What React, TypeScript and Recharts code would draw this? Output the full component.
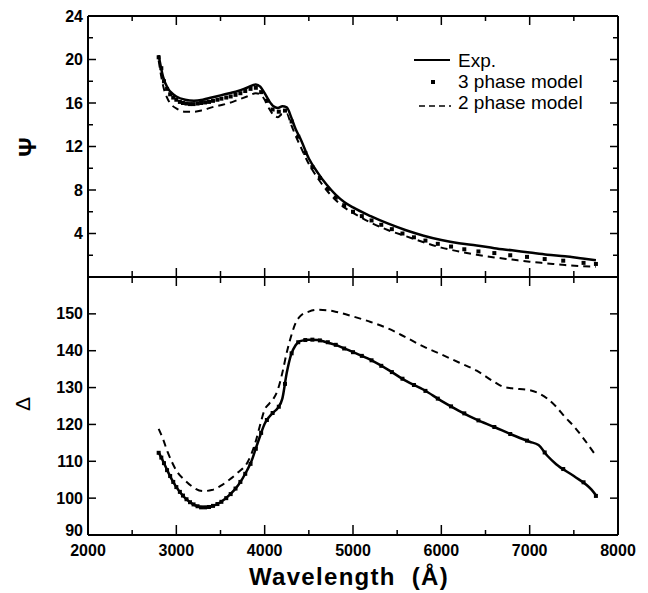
import { ComposedChart, Line, Scatter, XAxis, YAxis } from "recharts";

// wavelength (Å), value pairs
const psiExp: [number, number][] = [
  [2800, 20.4], [2850, 18.4], [2900, 17.4], [2950, 16.9], [3000, 16.6], [3100, 16.3],
  [3200, 16.2], [3300, 16.3], [3400, 16.5], [3500, 16.7], [3600, 16.9], [3700, 17.1],
  [3800, 17.4], [3900, 17.7], [3950, 17.5], [4000, 16.9], [4050, 16.2], [4100, 15.7],
  [4150, 15.55], [4200, 15.7], [4250, 15.6], [4300, 14.7], [4350, 13.6], [4400, 12.8],
  [4500, 10.9], [4600, 9.6], [4700, 8.5], [4800, 7.6], [4900, 6.9], [5000, 6.4],
  [5200, 5.6], [5400, 4.9], [5600, 4.3], [5800, 3.8], [6000, 3.4], [6200, 3.1],
  [6400, 2.9], [6600, 2.65], [6800, 2.45], [7000, 2.25], [7200, 2.05], [7400, 1.9],
  [7600, 1.7], [7750, 1.55],
];

const psiTwoPhase: [number, number][] = [
  [2800, 19.9], [2850, 17.6], [2900, 16.4], [2950, 15.8], [3000, 15.5], [3100, 15.2],
  [3200, 15.2], [3300, 15.35], [3400, 15.6], [3500, 15.8], [3600, 16.0], [3700, 16.3],
  [3800, 16.6], [3900, 16.9], [3950, 16.8], [4000, 16.3], [4050, 15.5], [4100, 14.9],
  [4150, 14.7], [4200, 15.0], [4250, 15.0], [4300, 14.0], [4350, 13.0], [4400, 12.1],
  [4500, 10.4], [4600, 9.1], [4700, 8.0], [4800, 7.1], [4900, 6.4], [5000, 5.9],
  [5200, 5.0], [5400, 4.3], [5600, 3.75], [5800, 3.2], [6000, 2.7], [6200, 2.35],
  [6400, 2.05], [6600, 1.8], [6800, 1.6], [7000, 1.4], [7200, 1.25], [7400, 1.1],
  [7600, 1.0], [7750, 0.95],
];

const deltaExp: [number, number][] = [
  [2800, 112.4], [2850, 110], [2900, 107.4], [2950, 105], [3000, 103], [3100, 100.0],
  [3200, 98.2], [3300, 97.5], [3400, 97.8], [3500, 98.9], [3600, 100.8], [3700, 103.5],
  [3800, 107.5], [3850, 110], [3900, 113.5], [3950, 117], [4000, 120.2], [4050, 122],
  [4100, 123.3], [4150, 124.5], [4200, 127], [4250, 134], [4300, 139], [4350, 141.5],
  [4400, 142.6], [4500, 143.0], [4600, 142.9], [4700, 142.3], [4800, 141.6], [5000, 139.6],
  [5200, 137.5], [5400, 134.8], [5600, 131.8], [5800, 129.4], [6000, 126.4], [6200, 123.7],
  [6400, 121.3], [6600, 119.3], [6800, 117.2], [7000, 115.3], [7100, 114.4], [7200, 111.5],
  [7300, 109.2], [7500, 106.0], [7700, 102.3], [7750, 100.8],
];

const deltaTwoPhase: [number, number][] = [
  [2800, 118.8], [2850, 116], [2900, 112.6], [2950, 109.8], [3000, 107.5], [3100, 104.8],
  [3200, 102.8], [3300, 101.9], [3400, 102.2], [3500, 103.3], [3600, 105.0], [3700, 107],
  [3800, 109.5], [3850, 112], [3900, 115.5], [3950, 120], [4000, 124], [4050, 125.6],
  [4100, 127], [4150, 129.5], [4200, 134], [4250, 139.5], [4300, 144], [4350, 147.5],
  [4400, 149.3], [4500, 150.6], [4600, 151.1], [4700, 151.0], [4800, 150.6], [5000, 149.3],
  [5200, 147.8], [5400, 146.0], [5600, 143.6], [5800, 141.1], [6000, 139.0], [6200, 136.8],
  [6400, 134.6], [6600, 131.5], [6700, 130.2], [6800, 129.8], [7000, 129.3], [7100, 128.5],
  [7200, 127], [7300, 124.8], [7400, 122], [7500, 119.5], [7600, 116.5], [7750, 111.5],
];

// 3 phase model points (markers)
const modelWl = [
  2800, 2830, 2860, 2895, 2930, 2965, 3000, 3040, 3075, 3115, 3155, 3195, 3240, 3280, 3325,
  3370, 3415, 3465, 3510, 3565, 3615, 3670, 3725, 3780, 3840, 3900, 3960, 4025, 4090, 4160,
  4230, 4305, 4380, 4460, 4540, 4625, 4715, 4805, 4900, 5000, 5100, 5210, 5320, 5440, 5560,
  5690, 5820, 5960, 6110, 6260, 6420, 6600, 6780, 6970, 7170, 7380, 7610, 7750,
];
const psiThreePhase = [
  20.2, 19.2, 18.0, 17.3, 16.8, 16.5, 16.3, 16.1, 16.0, 15.95, 15.9, 15.9, 15.95, 16.0, 16.05,
  16.1, 16.2, 16.3, 16.4, 16.5, 16.6, 16.75, 16.9, 17.1, 17.3, 17.4, 17.0, 16.2, 15.4, 15.2,
  15.3, 14.3, 12.9, 11.4, 10.1, 9.1, 8.1, 7.3, 6.6, 6.0, 5.6, 5.2, 4.8, 4.4, 4.0,
  3.65, 3.35, 3.05, 2.8, 2.55, 2.35, 2.2, 2.0, 1.85, 1.65, 1.5, 1.3, 1.2,
];
const deltaThreePhase = [
  112.3, 111, 109.5, 107.6, 106, 104.4, 103, 101.7, 100.7, 99.7, 98.9, 98.3, 97.8, 97.5, 97.5,
  97.6, 97.9, 98.4, 99.0, 100, 101.1, 102.6, 104.4, 106.6, 109.3, 113.4, 117.7, 121.2, 123.1, 124.8,
  131, 139.3, 142.3, 142.9, 143, 142.8, 142.3, 141.6, 140.6, 139.6, 138.6, 137.4, 135.9, 134.2, 132.4,
  130.7, 129.1, 127, 124.9, 123, 121.1, 119.3, 117.4, 115.6, 112.4, 107.9, 104.3, 100.6,
];

const xTicks = [2000, 2500, 3000, 3500, 4000, 4500, 5000, 5500, 6000, 6500, 7000, 7500, 8000];
const psiTicks = [2, 4, 6, 8, 10, 12, 14, 16, 18, 20, 22, 24];
const deltaTicks = [90, 100, 110, 120, 130, 140, 150];

const pts = (pairs: [number, number][]) => pairs.map(([x, y]) => ({ x, y }));
const zipPts = (xs: number[], ys: number[]) => xs.map((x, i) => ({ x, y: ys[i] }));

const sans = "'Liberation Sans', Arial, Helvetica, sans-serif";
const tickText = { fontFamily: sans, fontWeight: 700, fontSize: 16, fill: "#000" };
const axisLine = { stroke: "#000", strokeWidth: 2 };

type TickProps = { x?: number; y?: number; payload?: { value: number } };

// left ticks point inward, labels sit outside; the lowest label is nudged up off the x labels
const LeftTick = (labelEvery: number, minorLen: number, lowest: number) =>
  function Tick({ x = 0, y = 0, payload }: TickProps) {
    const v = payload?.value ?? 0;
    const major = v % labelEvery === 0;
    return (
      <g>
        <line x1={x} x2={x + (major ? 8 : minorLen)} y1={y} y2={y} stroke="#000" strokeWidth={1.5} />
        {major && (
          <text
            x={x - 5}
            y={v === lowest ? y - 5 : y}
            textAnchor="end"
            dominantBaseline="central"
            {...tickText}
          >
            {v}
          </text>
        )}
      </g>
    );
  };

const RightTick = (majorEvery: number) =>
  function Tick({ x = 0, y = 0, payload }: TickProps) {
    const v = payload?.value ?? 0;
    const len = v % majorEvery === 0 ? 8 : 5;
    return <line x1={x} x2={x - len} y1={y} y2={y} stroke="#000" strokeWidth={1.5} />;
  };

function TopTick({ x = 0, y = 0, payload }: TickProps) {
  const len = (payload?.value ?? 0) % 1000 === 0 ? 9 : 5;
  return <line x1={x} x2={x} y1={y} y2={y + len} stroke="#000" strokeWidth={1.5} />;
}

function MidTick({ x = 0, y = 0, payload }: TickProps) {
  const len = (payload?.value ?? 0) % 1000 === 0 ? 9 : 6;
  return <line x1={x} x2={x} y1={y - len} y2={y + len} stroke="#000" strokeWidth={1.5} />;
}

function BottomTick({ x = 0, y = 0, payload }: TickProps) {
  const v = payload?.value ?? 0;
  const major = v % 1000 === 0;
  return (
    <g>
      <line x1={x} x2={x} y1={y} y2={y - (major ? 10 : 5)} stroke="#000" strokeWidth={1.5} />
      {major && (
        <text x={x} y={y + 15} textAnchor="middle" dominantBaseline="central" {...tickText}>
          {v}
        </text>
      )}
    </g>
  );
}

const Square = (props: any) => (
  <rect x={props.cx - 2} y={props.cy - 2} width={4} height={4} fill="#000" />
);

const PsiLeftTick = LeftTick(4, 5, 0);
const DeltaLeftTick = LeftTick(10, 8, 90);
const PsiRightTick = RightTick(4);
const DeltaRightTick = RightTick(10);

export default function App() {
  return (
    <div style={{ position: "absolute", left: 0, top: 0, width: 648, height: 593, background: "#fff" }}>
      <div style={{ position: "absolute", left: 0, top: 0 }}>
        <ComposedChart width={648} height={290} margin={{ top: 15, right: 10, bottom: 0, left: 8 }}>
          <XAxis
            dataKey="x"
            type="number"
            domain={[2000, 8000]}
            ticks={xTicks}
            interval={0}
            height={13}
            tickSize={0}
            tickMargin={0}
            tickLine={false}
            axisLine={axisLine}
            tick={MidTick}
            allowDataOverflow
          />
          <XAxis
            xAxisId="top"
            orientation="top"
            dataKey="x"
            type="number"
            domain={[2000, 8000]}
            ticks={xTicks}
            interval={0}
            height={1}
            tickSize={0}
            tickMargin={0}
            tickLine={false}
            axisLine={axisLine}
            tick={TopTick}
            allowDataOverflow
          />
          <YAxis
            type="number"
            domain={[0, 24]}
            ticks={psiTicks}
            interval={0}
            width={80}
            tickSize={0}
            tickMargin={0}
            tickLine={false}
            axisLine={axisLine}
            tick={PsiLeftTick}
            allowDataOverflow
          />
          <YAxis
            yAxisId="right"
            orientation="right"
            type="number"
            domain={[0, 24]}
            ticks={psiTicks}
            interval={0}
            width={20}
            tickSize={0}
            tickMargin={0}
            tickLine={false}
            axisLine={axisLine}
            tick={PsiRightTick}
            allowDataOverflow
          />
          <Line
            data={pts(psiTwoPhase)}
            dataKey="y"
            type="monotone"
            stroke="#000"
            strokeWidth={2}
            strokeDasharray="7 5"
            dot={false}
            isAnimationActive={false}
          />
          <Line
            data={pts(psiExp)}
            dataKey="y"
            type="monotone"
            stroke="#000"
            strokeWidth={2.5}
            dot={false}
            isAnimationActive={false}
          />
          <Scatter
            data={zipPts(modelWl, psiThreePhase)}
            dataKey="y"
            fill="#000"
            shape={Square}
            isAnimationActive={false}
          />
        </ComposedChart>
      </div>

      <div style={{ position: "absolute", left: 0, top: 260 }}>
        <ComposedChart width={648} height={333} margin={{ top: 17, right: 10, bottom: 0, left: 8 }}>
          <XAxis
            dataKey="x"
            type="number"
            domain={[2000, 8000]}
            ticks={xTicks}
            interval={0}
            height={58}
            tickSize={0}
            tickMargin={0}
            tickLine={false}
            axisLine={axisLine}
            tick={BottomTick}
            allowDataOverflow
          />
          <YAxis
            type="number"
            domain={[90, 160]}
            ticks={deltaTicks}
            interval={0}
            width={80}
            tickSize={0}
            tickMargin={0}
            tickLine={false}
            axisLine={axisLine}
            tick={DeltaLeftTick}
            allowDataOverflow
          />
          <YAxis
            yAxisId="right"
            orientation="right"
            type="number"
            domain={[90, 160]}
            ticks={deltaTicks}
            interval={0}
            width={20}
            tickSize={0}
            tickMargin={0}
            tickLine={false}
            axisLine={axisLine}
            tick={DeltaRightTick}
            allowDataOverflow
          />
          <Line
            data={pts(deltaTwoPhase)}
            dataKey="y"
            type="monotone"
            stroke="#000"
            strokeWidth={2}
            strokeDasharray="7 5"
            dot={false}
            isAnimationActive={false}
          />
          <Line
            data={pts(deltaExp)}
            dataKey="y"
            type="monotone"
            stroke="#000"
            strokeWidth={2.5}
            dot={false}
            isAnimationActive={false}
          />
          <Scatter
            data={zipPts(modelWl, deltaThreePhase)}
            dataKey="y"
            fill="#000"
            shape={Square}
            isAnimationActive={false}
          />
        </ComposedChart>
      </div>

      {/* axis titles and legend */}
      <svg
        width={648}
        height={593}
        style={{ position: "absolute", left: 0, top: 0, pointerEvents: "none" }}
      >
        <text
          x={27}
          y={147}
          transform="rotate(-90 27 147)"
          textAnchor="middle"
          dominantBaseline="central"
          fontFamily={sans}
          fontWeight={700}
          fontSize={24}
        >
          Ψ
        </text>
        <text
          x={22}
          y={404}
          transform="rotate(-90 22 404)"
          textAnchor="middle"
          dominantBaseline="central"
          fontFamily={sans}
          fontSize={21}
        >
          Δ
        </text>
        <text
          x={349}
          y={585}
          textAnchor="middle"
          fontFamily={sans}
          fontWeight={700}
          fontSize={24}
          letterSpacing={1.3}
        >
          {"Wavelength\u00A0\u00A0(Å)"}
        </text>

        <line x1={414} x2={450} y1={60} y2={60} stroke="#000" strokeWidth={2} />
        <rect x={431} y={80} width={4} height={4} fill="#000" />
        <line x1={419} x2={451} y1={106} y2={106} stroke="#000" strokeWidth={1.5} strokeDasharray="6 4" />
        <g fontFamily={sans} fontSize={19} fill="#000" dominantBaseline="central">
          <text x={458} y={60}>Exp.</text>
          <text x={458} y={81}>3 phase model</text>
          <text x={458} y={102}>2 phase model</text>
        </g>
      </svg>
    </div>
  );
}
